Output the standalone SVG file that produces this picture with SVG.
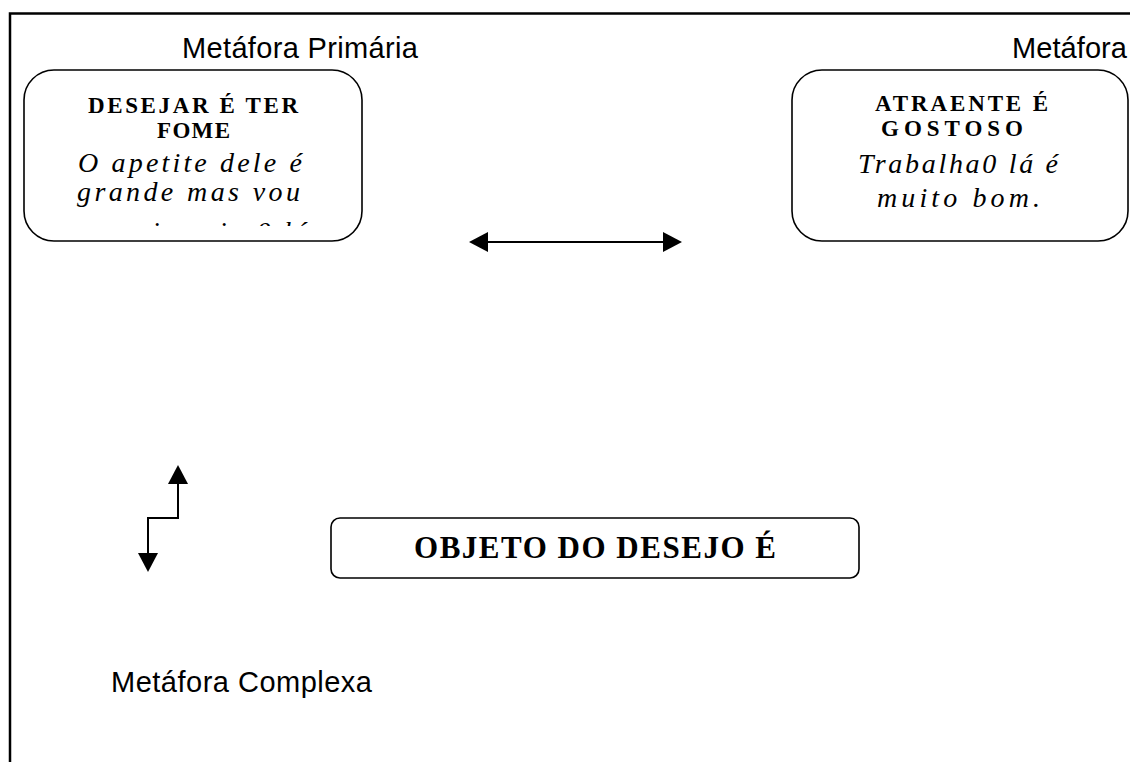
<svg xmlns="http://www.w3.org/2000/svg" width="1130" height="762" viewBox="0 0 1130 762">
<style>
.box{fill:#fff;stroke:#000;stroke-width:1.6}
.lbl{font-family:"Liberation Sans",Arial,sans-serif;font-size:29px;fill:#000}
.hd{font-family:"Liberation Serif","Times New Roman",serif;font-weight:bold;font-size:23px;fill:#000}
.it{font-family:"Liberation Serif","Times New Roman",serif;font-style:italic;font-size:28px;fill:#000}
.big{font-family:"Liberation Serif","Times New Roman",serif;font-weight:bold;font-size:31px;fill:#000}
.con{fill:none;stroke:#000;stroke-width:2}
</style>
<defs>
<marker id="ah" viewBox="0 0 19 20" refX="0" refY="10" markerWidth="19" markerHeight="20" markerUnits="userSpaceOnUse" orient="auto-start-reverse">
<path d="M0,0 L19,10 L0,20 z" fill="#000"/>
</marker>
<clipPath id="clipL"><rect x="24" y="70" width="338" height="156"/></clipPath>
</defs>
<rect width="1130" height="762" fill="#fff"/>
<rect x="10" y="13.5" width="1200" height="800" fill="none" stroke="#000" stroke-width="2.5"/>
<g id="label-primaria"><text class="lbl" x="182" y="58" textLength="236" lengthAdjust="spacing">Metáfora Primária</text></g>
<g id="label-metafora"><text class="lbl" x="1012" y="58" textLength="115" lengthAdjust="spacing">Metáfora</text></g>
<g id="label-complexa"><text class="lbl" x="111" y="692" textLength="261" lengthAdjust="spacing">Metáfora Complexa</text></g>
<g id="node-desejar">
<rect class="box" x="24" y="70" width="338" height="171" rx="30"/>
<text class="hd" x="88" y="113" textLength="210" lengthAdjust="spacing">DESEJAR É TER</text>
<text class="hd" x="157" y="138" textLength="73" lengthAdjust="spacing">FOME</text>
<text class="it" x="78" y="172" textLength="224" lengthAdjust="spacing">O apetite dele é</text>
<text class="it" x="77" y="201" textLength="223" lengthAdjust="spacing">grande mas vou</text>
<g clip-path="url(#clipL)"><text class="it" x="86" y="241" letter-spacing="3">com ir vai a0 lá</text></g>
</g>
<g id="node-atraente">
<rect class="box" x="792" y="70" width="336" height="171" rx="30"/>
<text class="hd" x="875" y="111" textLength="173" lengthAdjust="spacing">ATRAENTE É</text>
<text class="hd" x="881" y="136" textLength="142" lengthAdjust="spacing">GOSTOSO</text>
<text class="it" x="858" y="173" textLength="200" lengthAdjust="spacing">Trabalha0 lá é</text>
<text class="it" x="877" y="207" textLength="163" lengthAdjust="spacing">muito bom.</text>
</g>
<g id="node-objeto">
<rect class="box" x="331" y="518" width="528" height="60" rx="9"/>
<text class="big" x="414" y="558" textLength="362" lengthAdjust="spacing">OBJETO DO DESEJO É</text>
</g>
<g id="connectors">
<line class="con" x1="488" y1="242" x2="663" y2="242" marker-start="url(#ah)" marker-end="url(#ah)"/>
<path class="con" d="M178,484 V518 H148 V553" marker-start="url(#ah)" marker-end="url(#ah)"/>
</g>
</svg>
